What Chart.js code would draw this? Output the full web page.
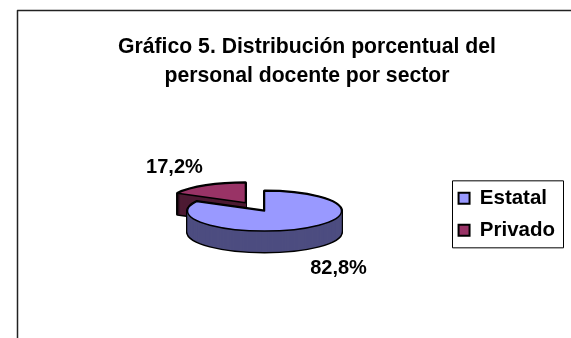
<!DOCTYPE html>
<html>
<head>
<meta charset="utf-8">
<script src="https://cdn.jsdelivr.net/npm/chart.js@4"></script>
<style>
  html, body { margin: 0; padding: 0; background: #fff; }
  #wrap { width: 571px; height: 338px; }
</style>
</head>
<body>
<div id="wrap"><canvas id="grafico"></canvas></div>
<script>
const sectores = ["Estatal", "Privado"];
const valores = [82.8, 17.2];
const etiquetas = ["82,8%", "17,2%"];
const colores = ["#9999ff", "#993366"];
const coloresLado = ["#4d4d80", "#4d1a33"];
const titulo = ["Gráfico 5. Distribución porcentual del", "personal docente por sector"];

// pie settings
const radio = 77;
const separacion = 148;   // chart.js moves the slice by offset / 4
const aplastar = 0.26;
const grosor = 21;
const centroX = 264.5;
const centroY = 211;

// where the percent labels sit, relative to the slice apex
const desplazaEtiqueta = [[74, 57], [-71, -35]];

// path of one slice, squashed so the pie looks tilted
function trazar(ctx, arc, dy) {
  const mid = (arc.startAngle + arc.endAngle) / 2;
  const off = arc.options.offset / 4;
  ctx.save();
  ctx.translate(centroX + Math.cos(mid) * off, centroY + dy + Math.sin(mid) * off * aplastar);
  ctx.scale(1, aplastar);
  ctx.beginPath();
  ctx.moveTo(0, 0);
  ctx.arc(0, 0, radio, arc.startAngle, arc.endAngle);
  ctx.closePath();
  ctx.restore();
}

const pastel3d = {
  id: "pastel3d",
  afterDatasetUpdate(chart) {
    // offset makes chart.js grow small slices, undo it
    chart.getDatasetMeta(0).data.forEach((arc, i) => {
      const off = [0, separacion][i] / 4;
      arc.outerRadius = radio - off * (1 - Math.sin(Math.min(Math.PI, arc.circumference)));
    });
  },
  beforeDatasetDraw(chart) {
    const ctx = chart.ctx;
    const arcos = chart.getDatasetMeta(0).data;
    // walls: back slice first so the big one covers it
    [1, 0].forEach(i => {
      ctx.strokeStyle = "#000";
      ctx.lineWidth = 3;
      ctx.lineJoin = "round";
      for (let d = grosor; d >= 0; d--) { trazar(ctx, arcos[i], d); ctx.stroke(); }
      ctx.fillStyle = coloresLado[i];
      for (let d = grosor; d >= 0; d--) { trazar(ctx, arcos[i], d); ctx.fill(); }
    });
    // squash the tops the library draws
    ctx.save();
    ctx.translate(centroX, centroY);
    ctx.scale(1, aplastar);
    ctx.translate(-arcos[0].x, -arcos[0].y);
  },
  afterDatasetDraw(chart) {
    const ctx = chart.ctx;
    ctx.restore();
    const arcos = chart.getDatasetMeta(0).data;
    ctx.strokeStyle = "#000";
    ctx.lineWidth = 1.5;
    ctx.lineJoin = "round";
    arcos.forEach(arc => { trazar(ctx, arc, 0); ctx.stroke(); });
    // percent labels
    ctx.fillStyle = "#000";
    ctx.font = "bold 20px 'Liberation Sans'";
    ctx.textAlign = "center";
    ctx.textBaseline = "middle";
    arcos.forEach((arc, i) => {
      const mid = (arc.startAngle + arc.endAngle) / 2;
      const off = arc.options.offset / 4;
      ctx.fillText(etiquetas[i],
        centroX + Math.cos(mid) * off + desplazaEtiqueta[i][0],
        centroY + Math.sin(mid) * off * aplastar + desplazaEtiqueta[i][1]);
    });
  },
  afterDraw(chart) {
    const ctx = chart.ctx;
    ctx.save();
    ctx.strokeStyle = "#222";
    ctx.lineWidth = 1.5;
    // chart frame
    ctx.beginPath();
    ctx.moveTo(17.5, 338);
    ctx.lineTo(17.5, 10.5);
    ctx.lineTo(571, 10.5);
    ctx.stroke();
    // legend frame
    const ley = chart.legend;
    ctx.strokeStyle = "#000";
    ctx.lineWidth = 1;
    ctx.strokeRect(452.5, ley.top + ley.height / 2 - 33.5, 111, 67);
    ctx.restore();
  }
};

new Chart(document.getElementById("grafico"), {
  type: "pie",
  data: {
    labels: sectores,
    datasets: [{
      data: valores,
      backgroundColor: colores,
      borderWidth: 0,
      radius: radio,
      offset: [0, separacion]
    }]
  },
  options: {
    responsive: true,
    maintainAspectRatio: false,
    animation: false,
    layout: { padding: { left: 49, right: 6, top: 0, bottom: 0 } },
    plugins: {
      tooltip: { enabled: false },
      title: {
        display: true,
        text: titulo,
        color: "#000",
        font: { family: "'Liberation Sans'", size: 21.2, weight: "bold", lineHeight: 1.36 },
        padding: { top: 33, bottom: 0 }
      },
      legend: {
        position: "right",
        fullSize: false,
        labels: {
          color: "#000",
          font: { family: "'Liberation Sans'", size: 20.5, weight: "bold" },
          boxWidth: 11,
          boxHeight: 11,
          padding: 11.5,
          generateLabels(chart) {
            return sectores.map((s, i) => ({
              text: s,
              fillStyle: colores[i],
              strokeStyle: "#000",
              lineWidth: 2,
              index: i
            }));
          }
        }
      }
    }
  },
  plugins: [pastel3d]
});
</script>
</body>
</html>
